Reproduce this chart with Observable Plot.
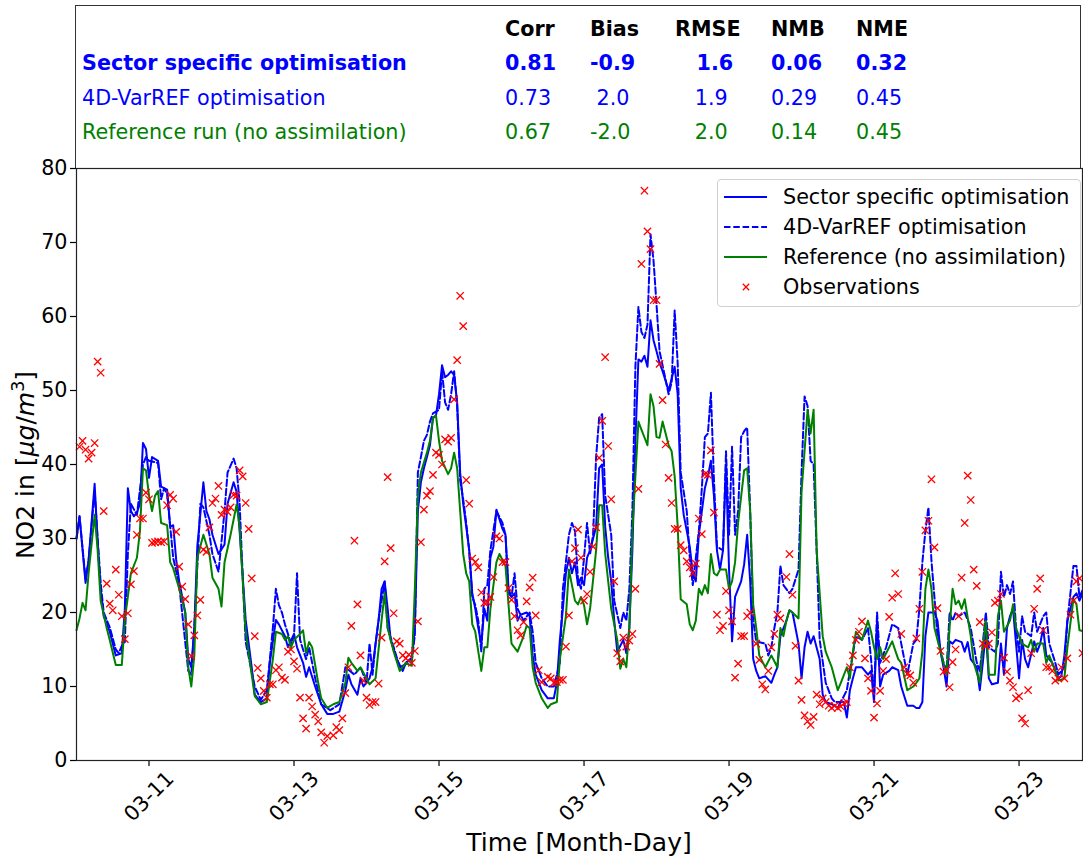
<!DOCTYPE html>
<html>
<head>
<meta charset="utf-8">
<script src="https://cdn.jsdelivr.net/npm/d3@7"></script>
<script src="https://cdn.jsdelivr.net/npm/@observablehq/plot@0.6"></script>
<style>
  body { margin: 0; background: #fff; font-family: "DejaVu Sans", sans-serif; }
  #fig { position: relative; width: 1083px; height: 859px; overflow: hidden; background: #fff; }
  #fig > svg { position: absolute; left: 0; top: 0; }
  .abs { position: absolute; white-space: pre; line-height: 1; }
</style>
</head>
<body>
<div id="fig"></div>
<script>
// Hourly NO2 series, hours counted from 03-10 00:00, values in µg/m³
const sectorOpt = [[0,30],[1,33],[3,24],[4,27],[6,37.4],[7,29.5],[8,23],[9,19.5],[11,17.4],[13,14.2],[15,14.5],[16,20.5],[17,36.8],[18,33.7],[19,33],[20,33.5],[21,34.7],[22,42.9],[23,42.1],[24,38.2],[25,41],[27,40.5],[28,37],[30,36.6],[31,31.6],[32,31.8],[33,27.1],[34,24.2],[36,20],[37,13.7],[38,12.6],[39,17.9],[40,29],[42,37.6],[43,33.7],[44,32.6],[45,30.5],[47,27.9],[49,29.2],[50,34.7],[52,37.6],[53,36.3],[54,31],[56,19],[58,12.6],[59,8.9],[61,7.9],[63,8.4],[64,13.2],[66,19],[67,18.4],[69,16.8],[70,15.3],[72,17.1],[73,15.3],[75,13.2],[76,11.3],[77,12.6],[79,10],[81,7.6],[83,6.3],[85,6.3],[87,6.6],[89,9.5],[90,11.6],[91,10.3],[93,8.9],[94,11.1],[95,10],[97,11.1],[98,12.6],[100,19],[101,23.2],[102,24.2],[103,20.5],[104,16.3],[106,13.7],[108,12.1],[109,13.2],[111,13.9],[112,17.9],[113,33.7],[114,37.6],[115,39.5],[116,41],[117,42.6],[118,46.3],[119,46.6],[120,49.5],[121,53.4],[122,51.8],[123,52.1],[124,52.6],[125,52.1],[126,48.4],[127,38.9],[128,34.7],[129,31.6],[130,28.4],[131,22.6],[132,20.5],[133,17.9],[134,15.8],[135,20.5],[136,18.9],[137,27.4],[138,28.9],[139,33.9],[140,32.6],[141,31.3],[142,30.5],[143,23.2],[144,22.1],[145,22.6],[146,18.9],[147,19.7],[149,20],[150,19.5],[151,14.2],[152,11.6],[154,9.5],[156,8.4],[158,8.4],[159,10.5],[160,16.3],[161,20.5],[162,25.3],[163,27.4],[164,25.3],[165,26.8],[166,23.7],[167,24.7],[168,23.7],[169,27.4],[170,28.4],[172,31.6],[173,39.5],[174,40],[175,31.6],[176,27.4],[177,24.2],[178,18.9],[179,14.7],[181,16.3],[182,14.5],[183,17.9],[184,28.4],[185,43.2],[186,54.2],[187,53.9],[188,54.7],[189,53.2],[190,59.5],[191,56.8],[192,55.3],[193,53.7],[194,52.6],[196,50],[197,51.6],[198,53.2],[199,49.5],[200,36.8],[201,33.2],[203,28.9],[204,25.3],[205,24.2],[206,30.5],[207,33.7],[208,36.8],[209,38.4],[210,40.5],[211,35.8],[212,28.4],[213,25.8],[214,28.4],[215,40],[216,25.8],[217,16.1],[218,22.1],[220,24.2],[221,26.5],[222,30.5],[223,24.2],[224,13.7],[225,12.1],[226,11.1],[228,11.4],[230,10.5],[231,11.6],[232,12.6],[233,16.8],[235,18.9],[236,20.3],[237,20],[239,15.8],[240,11.1],[241,15.3],[242,17.4],[243,15.8],[244,16.8],[246,13.7],[247,8.9],[248,7.9],[250,7.6],[252,7.1],[253,7.9],[254,7.9],[255,5.8],[256,9.5],[257,11.1],[258,12.6],[260,12.6],[262,11.6],[263,12.1],[264,7.9],[265,18.9],[266,10],[267,11.6],[269,12.1],[270,12.6],[272,12.2],[273,10],[275,7.4],[277,7.4],[278,7.1],[279,7.1],[280,7.9],[281,16.8],[282,20],[284,20],[285,18.9],[286,14.7],[287,12.6],[288,10],[289,16.1],[290,15.8],[291,16.3],[293,16],[294,14.7],[295,16],[296,13.7],[298,12.6],[299,9.5],[300,13.2],[301,17.4],[302,11.1],[303,10.3],[305,10.5],[306,15.8],[307,11.6],[308,17.9],[309,19.5],[310,20.5],[311,15.8],[312,11.1],[313,16.3],[314,13.7],[315,12.6],[317,16.1],[318,14.7],[319,15.8],[320,17.9],[321,14.2],[323,13.2],[325,11.1],[326,11.4],[327,14.2],[328,18.9],[330,22.1],[331,22.6],[332,21.6],[333,22.6]];

const varRefOpt = [[0,30],[1,33],[3,24.5],[4,27],[6,36.5],[7,30],[8,24],[9,20],[11,18],[13,15],[14,14.5],[15,15.5],[16,16],[17,27.9],[18,34.7],[20,33.2],[22,40],[23,41],[24,40.5],[27,40.2],[28,35.3],[29,36.8],[30,36],[32,27.4],[34,23.7],[37,12.1],[38,11.6],[39,17.9],[41,34.7],[42,34.2],[44,30.5],[45,27.9],[47,25.5],[49,33.7],[50,38.9],[52,40.8],[53,39.5],[54,34.7],[55,25],[56,16],[59,10],[61,8.2],[63,9.5],[65,17.9],[66,23.2],[67,21],[68,20],[69,18.4],[71,15.8],[72,16.8],[73,25.3],[74,16.3],[76,13.7],[77,15.3],[79,11.1],[81,7.6],[84,6.8],[87,7.6],[89,12.6],[92,11.6],[94,12.6],[96,10.5],[97,15.8],[98,11.6],[99,15.8],[100,19],[102,24.2],[103,17.9],[105,15.3],[107,12.6],[110,13.2],[111,13.5],[112,17],[113,38.9],[114,41],[115,43.2],[116,44],[117,45.8],[118,46.9],[120,47.4],[121,52.6],[122,48.4],[123,47.4],[124,49.5],[125,52.6],[126,48],[127,37.9],[128,35.3],[129,32.1],[130,28.4],[131,22.1],[132,21],[133,18.9],[134,14.7],[135,23.2],[136,23.7],[137,28.4],[139,33.7],[141,32.1],[142,30.5],[143,22.6],[144,22.1],[145,25.3],[146,20.5],[148,18.9],[150,20],[151,17.4],[152,13.2],[154,11.1],[156,10],[158,10],[160,13.2],[161,23.2],[163,30.5],[164,32.1],[165,31],[166,24.5],[167,23.2],[168,27.4],[169,32.1],[170,27.9],[171,30.5],[172,41],[173,46.3],[174,46.8],[175,35.8],[177,30.5],[178,21.6],[180,17.9],[181,20],[182,18.9],[183,23.2],[184,33.7],[185,53.2],[186,61.3],[187,57.9],[188,57.1],[189,58.9],[190,71.1],[191,67.6],[192,61.6],[193,55.3],[194,53.4],[196,49.5],[197,51.1],[198,60.8],[199,53.7],[200,38.9],[202,33.7],[203,27.4],[204,23.7],[206,31],[207,36.8],[208,43.7],[209,44.2],[210,49.7],[211,37.9],[212,28.9],[214,28.4],[215,41.8],[216,30.5],[217,42.4],[218,30.5],[219,33.7],[220,43.7],[221,44.5],[222,45],[223,33.7],[224,18.9],[225,16.1],[228,15.8],[229,14.2],[230,15.3],[231,17.9],[232,20],[233,26.3],[234,23.7],[236,22.6],[237,23.2],[239,25.8],[240,38.9],[241,49.2],[242,47.9],[243,40.5],[244,40],[245,28.4],[246,16.3],[248,10.5],[250,8.4],[251,7.9],[253,7.9],[255,9.5],[256,12.1],[258,16.8],[260,16.3],[262,17.9],[263,13.7],[264,8.9],[265,20],[266,13.2],[268,15.3],[270,18.4],[272,17.9],[273,15.8],[275,11.6],[277,15.8],[278,16.3],[279,20.5],[280,26.8],[281,31],[282,34.2],[283,27],[284,22],[285,16.8],[287,13.2],[288,12.1],[289,20],[290,18.9],[291,20],[292,19.5],[294,20],[295,19],[296,17.9],[298,13.2],[299,12.1],[300,15.8],[301,20],[302,15.3],[304,14.7],[305,15.8],[306,25.5],[307,22.1],[308,23.7],[309,22.5],[310,24.2],[311,17.9],[312,14.7],[313,19.5],[314,17.4],[316,16.8],[317,20],[318,17.4],[320,19.5],[321,20],[322,15.8],[324,13.2],[325,11.6],[327,12.6],[328,18.9],[330,26.3],[331,26.3],[332,22.1],[333,23]];

const referenceRun = [[0,17.6],[1,19.2],[2,21.3],[3,20.3],[4,25.3],[6,33.2],[7,28.4],[8,21.6],[10,17.9],[11,16.3],[13,12.9],[15,12.9],[16,19],[18,25.3],[20,27.4],[21,31],[22,39.5],[23,39.2],[24,35.8],[25,33.7],[26,35.8],[27,36.4],[28,32.1],[30,31.8],[31,26.8],[32,26],[34,23.2],[36,20],[37,12.6],[38,10],[39,14.2],[40,27.4],[42,30.5],[44,27.9],[45,24.7],[47,23.2],[48,20.8],[49,26.8],[51,30.5],[53,34.6],[54,31.6],[56,17.4],[58,11.6],[59,8.7],[61,7.6],[63,7.9],[65,13.7],[66,17.4],[68,17.1],[69,16.3],[70,16.8],[71,15.3],[72,16.3],[74,17.1],[75,17.6],[76,14.5],[77,16],[78,15.3],[80,10.5],[81,8.4],[83,7.1],[85,7.6],[87,7.9],[89,10.5],[90,13.9],[91,13.2],[93,12.1],[94,12.6],[96,11.1],[97,10.3],[99,11.1],[101,19],[102,22.6],[103,17.9],[105,14.7],[107,12.1],[109,13.2],[111,12.8],[112,23.2],[113,35.8],[114,38.9],[116,41.6],[117,43.2],[118,46.3],[119,46.6],[120,43.2],[121,40.5],[123,38.7],[124,39.5],[125,41.6],[126,39.5],[127,33.7],[128,27.9],[129,25.3],[130,24.2],[131,18.4],[132,17.4],[133,14.7],[134,12.1],[135,15.3],[136,15.3],[137,20.5],[139,26.8],[140,27.9],[142,26.3],[143,21.1],[144,15.8],[146,14.7],[148,16.8],[149,18.2],[150,17.9],[151,12.6],[152,10.5],[154,8.4],[156,7.1],[157,7.6],[159,7.9],[160,13.7],[162,19.5],[163,25.8],[165,21.6],[166,21.1],[167,22.1],[168,21],[169,18.4],[170,20.5],[172,28.4],[173,34.5],[174,34.5],[175,28],[176,24.2],[177,20.5],[179,16.3],[180,12.4],[181,13.7],[182,12.6],[183,17.9],[184,31],[186,45.8],[187,44.7],[189,42.6],[190,49.5],[191,47.9],[192,43.7],[193,43.6],[194,45.8],[196,42.6],[197,41.8],[198,38.4],[199,31.6],[200,21.8],[202,21.1],[203,18.4],[204,17.6],[205,18.9],[206,23.2],[207,22.4],[208,23.7],[209,22.6],[210,27.9],[211,25.3],[212,25],[213,25.8],[215,25.8],[216,23.2],[217,24.2],[218,26.8],[219,32.1],[221,39.2],[222,39.5],[223,33.7],[224,21],[225,17.9],[226,14.2],[227,13.4],[228,12.6],[230,14.2],[232,12.6],[233,17.9],[234,16.8],[235,18.9],[236,20.3],[237,20],[239,19.2],[240,36.3],[242,47.4],[243,44.2],[244,47.4],[245,28.4],[247,16.8],[248,14.7],[250,12.6],[252,9.5],[253,10.5],[255,12.6],[256,11.1],[257,14.7],[258,17.4],[260,16.3],[262,18.9],[263,17.4],[264,15.3],[265,13.7],[266,15.3],[267,13.7],[268,14.5],[270,16.1],[272,13.7],[273,13.2],[275,9.5],[277,10],[278,10.5],[279,11.1],[280,14.7],[281,23.2],[282,25.8],[283,23.2],[284,17.9],[286,14.7],[288,11.6],[289,17.9],[290,23.2],[291,21.1],[292,21.6],[293,20.5],[294,21.8],[296,16.8],[297,13.2],[299,10.5],[300,15.3],[301,18.9],[302,11.6],[304,11.6],[305,19.5],[306,21.6],[307,17.4],[309,18.9],[310,21.1],[311,17.9],[312,16.8],[313,15.8],[315,15.3],[316,16.3],[317,14.7],[318,15.8],[320,15.8],[321,13.2],[322,14.2],[324,12.1],[325,10.8],[327,11.1],[328,15.3],[330,21.8],[331,21.1],[332,17.6],[333,17.5]];

const observations = [[1,42.4],[2,43.2],[3,42],[4,40.8],[5,41.6],[6,42.9],[7,53.9],[8,52.4],[9,33.7],[10,23.9],[11,21.2],[12,20.3],[13,25.8],[14,22.4],[15,19.5],[16,16.4],[17,19.9],[18,23.8],[19,25.6],[20,30.5],[21,32.7],[22,32.7],[23,36.2],[24,35.3],[25,29.4],[26,29.5],[27,29.6],[28,29.5],[29,29.6],[30,34.5],[31,35.9],[32,35.4],[33,30.9],[34,26.2],[35,23.5],[36,21.8],[37,18.4],[38,14.1],[39,16.9],[40,19.6],[41,21.7],[42,28.5],[43,28.2],[44,31.5],[45,34.8],[46,35.4],[47,37.1],[48,33.2],[49,33.9],[50,33.6],[51,34.2],[52,35.9],[53,35.8],[54,39.2],[55,38.4],[56,34.8],[57,31.3],[58,24.6],[59,16.8],[60,12.5],[61,11.1],[62,9.4],[63,8.5],[64,10.3],[65,10.3],[66,12.2],[67,12.6],[68,11.2],[69,10.9],[70,14.7],[71,15],[72,13.4],[73,12.4],[74,8.5],[75,5.7],[76,4.3],[77,8.5],[78,7.3],[79,6.2],[80,5.3],[81,3.8],[82,2.4],[83,3.3],[85,3.4],[86,4.5],[87,4.1],[88,5.7],[89,9.1],[90,12.6],[91,18.2],[92,29.7],[93,21.1],[94,14.2],[95,10.8],[96,8.5],[97,7.5],[98,7.9],[99,7.9],[100,10.4],[101,16.6],[102,26.9],[103,38.3],[104,28.7],[105,19.9],[106,16.1],[107,15.8],[108,14.2],[109,13.8],[110,14.3],[111,13.2],[112,14.8],[113,18.8],[114,29.5],[115,33.9],[116,35.8],[117,36.4],[118,38.6],[119,41.6],[120,41.3],[121,40],[122,43.4],[123,43.1],[124,43.6],[125,48.8],[126,54.1],[127,62.8],[128,58.7],[129,37.9],[130,34.7],[131,27.3],[132,26.8],[133,26.1],[134,22.7],[135,21.3],[136,21.4],[137,22.1],[138,24.8],[139,30.3],[140,30],[141,26.8],[142,26.8],[143,23.3],[144,21.7],[145,19.5],[146,17.6],[147,16.9],[148,18.7],[149,21.5],[150,23.4],[151,24.7],[152,19.6],[153,12.2],[154,10.6],[156,11.3],[157,11.1],[158,10.5],[159,10.6],[160,10.9],[161,10.9],[162,15.4],[163,19.6],[164,26.9],[165,28.7],[166,31.2],[167,27.4],[168,21.6],[169,22.5],[170,25.5],[171,28.9],[172,31.5],[173,40.9],[174,45.9],[175,54.5],[176,42.5],[177,35.3],[178,24.2],[179,14.5],[180,13.4],[181,16.6],[182,15.4],[183,16.2],[184,17.1],[185,23.2],[186,36.7],[187,67.1],[188,77],[189,71.5],[190,69.1],[191,62.2],[192,62.2],[193,53.6],[194,48.7],[195,42.7],[196,38.2],[197,34.8],[198,31.3],[199,31.3],[200,29.1],[201,28.4],[202,26.9],[203,26.1],[204,25.3],[205,26.6],[206,32.7],[207,30.6],[208,38.7],[209,38.6],[210,41.9],[211,33.5],[212,19.7],[213,17.6],[214,18.2],[215,22.9],[216,20.3],[217,18.8],[218,11.2],[219,13.1],[220,16.8],[221,16.8],[222,19.5],[223,20],[225,15.8],[226,13.6],[227,10.3],[228,9.6],[229,12.1],[230,15.3],[231,17.1],[232,19.7],[233,19.2],[235,24.8],[236,27.9],[237,22.4],[238,15.5],[239,10.8],[240,8.2],[241,6.1],[242,5.3],[243,4.8],[244,5.9],[245,8.9],[246,7.6],[247,8.4],[248,7.9],[249,7.4],[250,7.1],[251,7.4],[252,7.1],[253,7.3],[254,7.7],[255,7.9],[256,12.6],[257,14.2],[258,16.3],[259,17.4],[260,18.8],[261,13.8],[262,11.1],[263,9.4],[264,5.8],[265,7.7],[266,9.4],[267,12.1],[268,13.7],[269,19.4],[270,22],[271,25.3],[272,22.5],[273,17.1],[274,12.6],[275,11.7],[276,11.5],[277,10.5],[278,16.5],[279,20.5],[280,25.5],[281,31.1],[282,32.4],[283,38],[284,28.8],[285,20.6],[286,14.8],[287,12],[288,12.2],[289,9.9],[290,13.3],[291,15],[292,19.5],[293,24.7],[294,32.1],[295,38.5],[296,35.2],[297,25.8],[298,23.6],[299,18.7],[300,15.8],[301,15.5],[302,15.8],[303,17.3],[304,21.3],[305,21.6],[306,22.5],[307,13.9],[308,12],[309,10.8],[310,9.9],[311,8.4],[312,8.7],[313,5.7],[314,5],[315,9.5],[316,14.5],[317,20.5],[318,23.2],[319,24.6],[320,17.6],[321,12.6],[322,12.6],[323,12.1],[324,10.8],[325,11.1],[326,12.6],[327,11.1],[328,13.8],[329,19.7],[330,21.6],[331,24.2],[332,24.6],[333,14.5]];

// Statistics table
const statNames = ["Corr", "Bias", "RMSE", "NMB", "NME"];
const runNames = ["Sector specific optimisation", "4D-VarREF optimisation", "Reference run (no assimilation)"];
const runColors = ["#0000ff", "#0000ff", "#008000"];
const corr = [0.81, 0.73, 0.67];
const bias = [-0.9, 2.0, -2.0];
const rmse = [1.6, 1.9, 2.0];
const nmb = [0.06, 0.29, 0.14];
const nme = [0.32, 0.45, 0.45];

// Axis ticks
const yTicks = [0, 10, 20, 30, 40, 50, 60, 70, 80];
const tickDays = ["03-11", "03-13", "03-15", "03-17", "03-19", "03-21", "03-23"];

// Legend entries
const legendLabels = ["Sector specific optimisation", "4D-VarREF optimisation", "Reference (no assimilation)", "Observations"];

const t0 = Date.UTC(2021, 2, 10);
const toDate = h => new Date(t0 + h * 3600e3);
const rows = arr => arr.map(([h, v]) => ({t: toDate(h), v}));
const tickDates = tickDays.map(s => new Date(Date.UTC(2021, +s.slice(0, 2) - 1, +s.slice(3))));

const BLUE = "#0000ff", GREEN = "#008000", RED = "#ff0000";
const FS = 20.7;
const LW = 2;
const DASH = "6.5,2.8";

const chart = Plot.plot({
  width: 1083,
  height: 859,
  marginLeft: 76,
  marginRight: 1,
  marginTop: 168,
  marginBottom: 99,
  style: {fontFamily: "DejaVu Sans", fontSize: FS + "px", color: "#000", background: "transparent", overflow: "visible"},
  x: {type: "utc", domain: [toDate(0), toDate(333)]},
  y: {domain: [0, 80]},
  marks: [
    Plot.line(rows(sectorOpt), {x: "t", y: "v", stroke: BLUE, strokeWidth: LW}),
    Plot.line(rows(varRefOpt), {x: "t", y: "v", stroke: BLUE, strokeWidth: LW, strokeDasharray: DASH}),
    Plot.line(rows(referenceRun), {x: "t", y: "v", stroke: GREEN, strokeWidth: LW}),
    Plot.dot(rows(observations), {x: "t", y: "v", symbol: "times", r: 3.4, stroke: RED, strokeWidth: 1.3}),
    Plot.axisY({ticks: yTicks, tickSize: 6, tickPadding: 3, label: null, fontSize: FS, strokeWidth: 1.2}),
    Plot.axisX({ticks: tickDates, tickFormat: d3.utcFormat("%m-%d"), tickSize: 6, tickPadding: 30,
                tickRotate: -45, textAnchor: "middle", lineAnchor: "middle", label: null, fontSize: FS, strokeWidth: 1.2}),
    Plot.frame({stroke: "#222", strokeWidth: 1.2})
  ]
});

const fig = document.getElementById("fig");
fig.appendChild(chart);

function addText(txt, left, top, opts = {}) {
  const el = document.createElement("div");
  el.className = "abs";
  el.textContent = txt;
  el.style.left = left + "px";
  el.style.top = top + "px";
  el.style.fontSize = (opts.size || FS) + "px";
  el.style.color = opts.color || "#000";
  if (opts.bold) el.style.fontWeight = "bold";
  el.style.transform = "translateY(-50%)";
  fig.appendChild(el);
  return el;
}

// Statistics panel above the plot
const panel = document.createElement("div");
panel.style.cssText = "position:absolute;left:75px;top:5px;width:1006px;height:163px;border:1.2px solid #333;border-bottom:none;box-sizing:border-box;";
fig.appendChild(panel);

const colLeft = [505, 590, 675, 771, 856];
const rowMid = [29, 63, 98, 132];
statNames.forEach((s, j) => addText(s, colLeft[j], rowMid[0], {bold: true}));
const fmt2 = v => v.toFixed(2);
const fmtBias = v => (v < 0 ? "-" : " ") + Math.abs(v).toFixed(1);
const fmtRmse = v => "   " + v.toFixed(1);
runNames.forEach((name, i) => {
  const o = {color: runColors[i], bold: i === 0};
  addText(name, 82, rowMid[i + 1], o);
  const vals = [fmt2(corr[i]), fmtBias(bias[i]), fmtRmse(rmse[i]), fmt2(nmb[i]), fmt2(nme[i])];
  vals.forEach((v, j) => addText(v, colLeft[j], rowMid[i + 1], o));
});

// Legend box
const leg = document.createElement("div");
leg.style.cssText = "position:absolute;left:717px;top:179px;width:364px;height:128px;border:1px solid #d0d0d0;border-radius:4px;background:rgba(255,255,255,0.8);box-sizing:border-box;";
fig.appendChild(leg);
const legY = [197, 227, 257, 287];
const ns = "http://www.w3.org/2000/svg";
const sw = document.createElementNS(ns, "svg");
sw.setAttribute("width", 1083); sw.setAttribute("height", 859);
sw.style.cssText = "position:absolute;left:0;top:0;pointer-events:none;";
const handles = [
  {stroke: BLUE, dash: null},
  {stroke: BLUE, dash: DASH},
  {stroke: GREEN, dash: null}
];
handles.forEach((h, i) => {
  const l = document.createElementNS(ns, "line");
  l.setAttribute("x1", 724); l.setAttribute("x2", 767);
  l.setAttribute("y1", legY[i]); l.setAttribute("y2", legY[i]);
  l.setAttribute("stroke", h.stroke); l.setAttribute("stroke-width", LW);
  if (h.dash) l.setAttribute("stroke-dasharray", h.dash);
  sw.appendChild(l);
});
const xm = document.createElementNS(ns, "path");
const cx = 746, cy = legY[3], a = 3.2;
xm.setAttribute("d", `M${cx - a},${cy - a}L${cx + a},${cy + a}M${cx - a},${cy + a}L${cx + a},${cy - a}`);
xm.setAttribute("stroke", RED); xm.setAttribute("stroke-width", 1.3);
sw.appendChild(xm);
fig.appendChild(sw);
legendLabels.forEach((s, i) => addText(s, 783, legY[i]));

// Axis titles
const xl = addText("Time [Month-Day]", 579, 842, {size: 25});
xl.style.transform = "translate(-50%,-50%)";
const yl = document.createElement("div");
yl.className = "abs";
yl.innerHTML = "NO2 in [<i>μg</i>/<i>m</i><sup style=\"font-size:0.7em;vertical-align:0.55em;line-height:0\">3</sup>]";
yl.style.cssText += "left:25px;top:465px;font-size:25px;transform:translate(-50%,-50%) rotate(-90deg);";
fig.appendChild(yl);
</script>
</body>
</html>
